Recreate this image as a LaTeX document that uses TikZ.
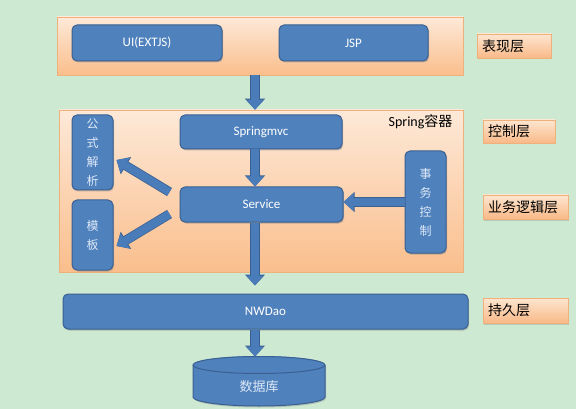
\documentclass[tikz,border=0pt]{standalone}
\usepackage{fontspec}
\setmainfont{Carlito}
\newfontfamily\cjk{Noto Sans CJK SC}
\usetikzlibrary{shadows,arrows.meta,calc}
\definecolor{bgc}{RGB}{205,233,210}
\definecolor{boxblue}{RGB}{79,129,189}
\definecolor{boxedge}{RGB}{58,96,145}
\definecolor{arrowblue}{RGB}{74,124,186}
\definecolor{paneltop}{RGB}{253,233,216}
\definecolor{panelbot}{RGB}{250,190,140}
\definecolor{labtop}{RGB}{253,230,208}
\definecolor{labbot}{RGB}{249,185,135}
\definecolor{cjkwhite}{RGB}{222,233,247}
\begin{document}
\begin{tikzpicture}[x=1pt,y=-1pt,
  panel/.style={draw=panelbot!80!brown, line width=0.6pt, top color=paneltop, bottom color=panelbot,
    inner sep=0pt, drop shadow={shadow xshift=1pt,shadow yshift=-1pt,opacity=0.25}},
  bluebox/.style={draw=boxedge, line width=1pt, fill=boxblue, rounded corners=5pt, inner sep=0pt,
    text=white, font=\fontsize{13}{15}\selectfont,
    drop shadow={shadow xshift=1pt,shadow yshift=-1.5pt,opacity=0.45}},
  vbox/.style={bluebox, text=cjkwhite, align=center, font=\cjk\fontsize{12}{19}\selectfont},
  layerlab/.style={draw=labbot!85!brown, line width=0.5pt, top color=labtop, bottom color=labbot,
    inner xsep=5pt, inner ysep=0pt, align=left, font=\cjk\fontsize{14}{16}\selectfont,
    drop shadow={shadow xshift=1pt,shadow yshift=-1.5pt,opacity=0.3}},
  blockarrow/.style={draw=arrowblue, line width=8pt, -{Triangle[length=10pt,width=17pt]},
    preaction={draw=boxedge, line width=9.5pt, -{Triangle[length=11pt,width=19.5pt]}}}
]
\fill[bgc] (0,0) rectangle (576,409);
\useasboundingbox (0,0) rectangle (576,409);

% panels
\node[panel, minimum width=406pt, minimum height=58pt] (toppanel) at (260,46) {};
\node[panel, minimum width=404pt, minimum height=162pt] (midpanel) at (261,191) {};

% presentation layer boxes
\node[bluebox, minimum width=150pt, minimum height=36pt] (ui) at (147,43) {UI(EXTJS)};
\node[bluebox, minimum width=149pt, minimum height=36pt] (jsp) at (353.5,43) {JSP};

% spring container
\node[font=\fontsize{14}{16}\selectfont, inner sep=0pt] (springlab) at (420.5,122) {Spring{\cjk 容器}};
\node[bluebox, minimum width=162pt, minimum height=34pt] (smvc) at (261,132) {Springmvc};
\node[bluebox, minimum width=163pt, minimum height=35pt] (svc) at (261.5,204.5) {Service};
\node[vbox, minimum width=41pt, minimum height=75pt] (gsjx) at (92.5,152.5) {公\\式\\解\\析};
\node[vbox, minimum width=41pt, minimum height=70pt] (mb) at (92.5,235) {模\\板};
\node[vbox, minimum width=41pt, minimum height=102pt] (swkz) at (425.5,202) {事\\务\\控\\制};

% dao
\node[bluebox, minimum width=405pt, minimum height=35pt] (dao) at (265.5,311.5) {NWDao};

% database cylinder
\fill[boxblue, drop shadow={shadow xshift=1pt,shadow yshift=-1.5pt,opacity=0.35}]
  (193,365) -- (193,397) arc[start angle=180, end angle=360, x radius=66pt, y radius=9pt]
  -- (325,365) arc[start angle=0, end angle=180, x radius=66pt, y radius=9pt] -- cycle;
\draw[boxedge, line width=1pt]
  (193,365) -- (193,397) arc[start angle=180, end angle=360, x radius=66pt, y radius=9pt]
  -- (325,365);
\draw[boxedge, line width=1pt, fill=boxblue] (259,365) ellipse[x radius=66pt, y radius=8.5pt];
\node[text=cjkwhite, font=\cjk\fontsize{13}{15}\selectfont] (db) at (259,387) {数据库};
\coordinate (dbtop) at (259,356.5);

% layer labels
\node[layerlab, minimum height=24pt, text width=64pt] (l1) at (514,46) {表现层};
\node[layerlab, minimum height=23pt, text width=62pt] (l2) at (519,131.5) {控制层};
\node[layerlab, minimum height=24pt, text width=75pt] (l3) at (525.5,207) {业务逻辑层};
\node[layerlab, minimum height=25pt, text width=75pt] (l4) at (525.5,310.5) {持久层};

% arrows
\coordinate (ax) at (255,0);
\draw[blockarrow] (toppanel.south -| ax) -- (midpanel.north -| ax);
\draw[blockarrow] (smvc.south -| ax) -- (svc.north -| ax);
\draw[blockarrow] (svc.south -| ax) -- ([yshift=8pt]dao.north -| ax);
\draw[blockarrow] (dao.south -| ax) -- (dbtop -| ax);
\draw[blockarrow] (swkz.west) -- (swkz.west -| svc.east);
\draw[blockarrow] ([xshift=-10pt,yshift=12.5pt]svc.west) -- ([xshift=3pt,yshift=-7.5pt]gsjx.east);
\draw[blockarrow] ([xshift=-10pt,yshift=-9.5pt]svc.west) -- ([xshift=3pt,yshift=-11pt]mb.east);
\end{tikzpicture}
\end{document}
